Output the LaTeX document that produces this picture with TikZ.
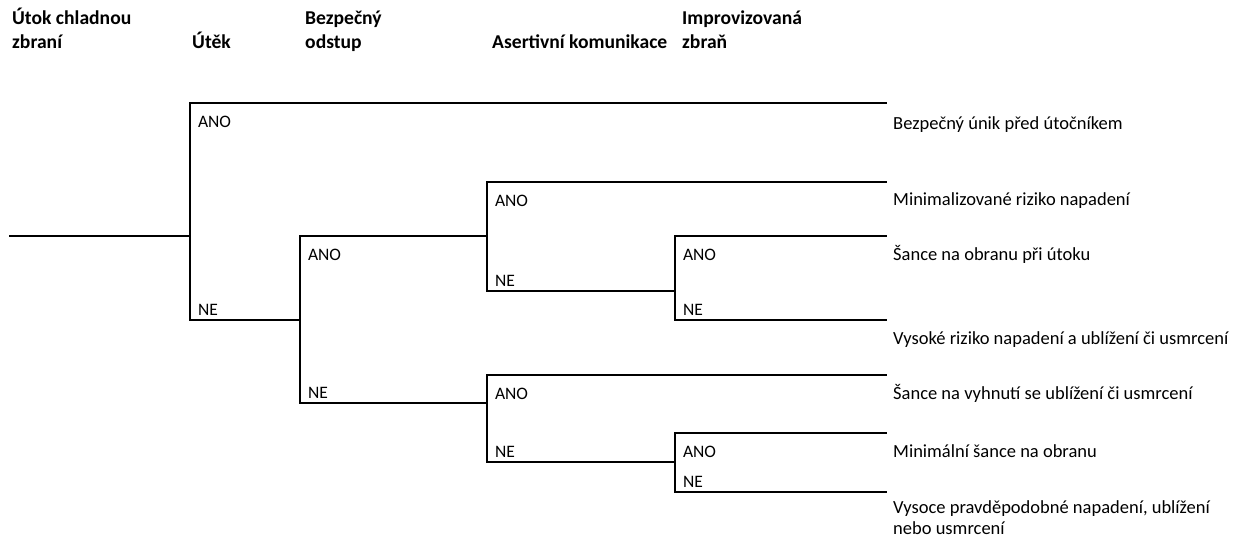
\documentclass[tikz,border=0pt]{standalone}
\usepackage{fontspec}
\setmainfont{Carlito}
\usepackage{tikz}
\tikzset{
	branch/.style={line width=2pt,line join=miter},%
	header/.style={anchor=base west,inner sep=0,align=left,font=\bfseries\fontsize{19.6}{24}\selectfont},%
	yes/.style={anchor=base west,inner sep=0,xshift=7pt,yshift=-24.5pt,font=\fontsize{17.5}{20}\selectfont},%
	no/.style={anchor=base west,inner sep=0,xshift=7pt,yshift=5pt,font=\fontsize{17.5}{20}\selectfont},%
	outcome/.style={anchor=base west,inner sep=0,xshift=6pt,yshift=-24pt,align=left,font=\fontsize{18.5}{21}\selectfont},%
}
\def\leafx{887}

\begin{document}
\begin{tikzpicture}[%
		x=1pt,y=-1pt,%
		]
		\useasboundingbox (0,0) rectangle (1246,537);
		% column headings (base = last line)
		\node[header] (hzbran) at (12,49) {Útok chladnou\\zbraní};
		\node[header] (hutek) at (192,49) {Útěk};
		\node[header] (hodstup) at (305,49) {Bezpečný\\odstup};
		\node[header] (hkomunikace) at (492,49) {Asertivní komunikace};
		\node[header] (himpro) at (682,49) {Improvizovaná\\zbraň};
		% decision points
		\coordinate (root) at (9,236);
		\coordinate (utek) at (190,236);
		\coordinate (odstup) at (300,320);
		\coordinate (asert1) at (487,236);
		\coordinate (asert2) at (487,403);
		\coordinate (impro1) at (675,291);
		\coordinate (impro2) at (675,462);
		\foreach \y [count=\i] in {103,182,236,320,375,433,492}
			\coordinate (leaf\i) at (\leafx,\y);
		% branches
		\draw[branch] (root) -- (utek);
		\draw[branch] (utek) |- (leaf1) node[pos=0.5,yes] (utekano) {ANO};
		\draw[branch] (utek) |- (odstup) node[pos=0.5,no] (utekne) {NE};
		\draw[branch] (odstup) |- (asert1) node[pos=0.5,yes] (odstupano) {ANO};
		\draw[branch] (odstup) |- (asert2) node[pos=0.5,no] (odstupne) {NE};
		\draw[branch] (asert1) |- (leaf2) node[pos=0.5,yes] (asertano) {ANO};
		\draw[branch] (asert1) |- (impro1) node[pos=0.5,no] (asertne) {NE};
		\draw[branch] (impro1) |- (leaf3) node[pos=0.5,yes] (improano) {ANO};
		\draw[branch] (impro1) |- (leaf4) node[pos=0.5,no] (improne) {NE};
		\draw[branch] (asert2) |- (leaf5) node[pos=0.5,yes] (asertanob) {ANO};
		\draw[branch] (asert2) |- (impro2) node[pos=0.5,no] (asertneb) {NE};
		\draw[branch] (impro2) |- (leaf6) node[pos=0.5,yes] (improanob) {ANO};
		\draw[branch] (impro2) |- (leaf7) node[pos=0.5,no] (improneb) {NE};
		% outcomes
		\node[outcome,yshift=-3pt] (unik) at (leaf1) {Bezpečný únik před útočníkem};
		\node[outcome] (minriziko) at (leaf2) {Minimalizované riziko napadení};
		\node[outcome] (obrana) at (leaf3) {Šance na obranu při útoku};
		\node[outcome] (vysriziko) at (leaf4) {Vysoké riziko napadení a ublížení či usmrcení};
		\node[outcome] (vyhnuti) at (leaf5) {Šance na vyhnutí se ublížení či usmrcení};
		\node[outcome] (minobrana) at (leaf6) {Minimální šance na obranu};
		\node[outcome,yshift=-18pt] (napadeni) at (leaf7) {Vysoce pravděpodobné napadení, ublížení\\nebo usmrcení};
	\end{tikzpicture}
\end{document}
